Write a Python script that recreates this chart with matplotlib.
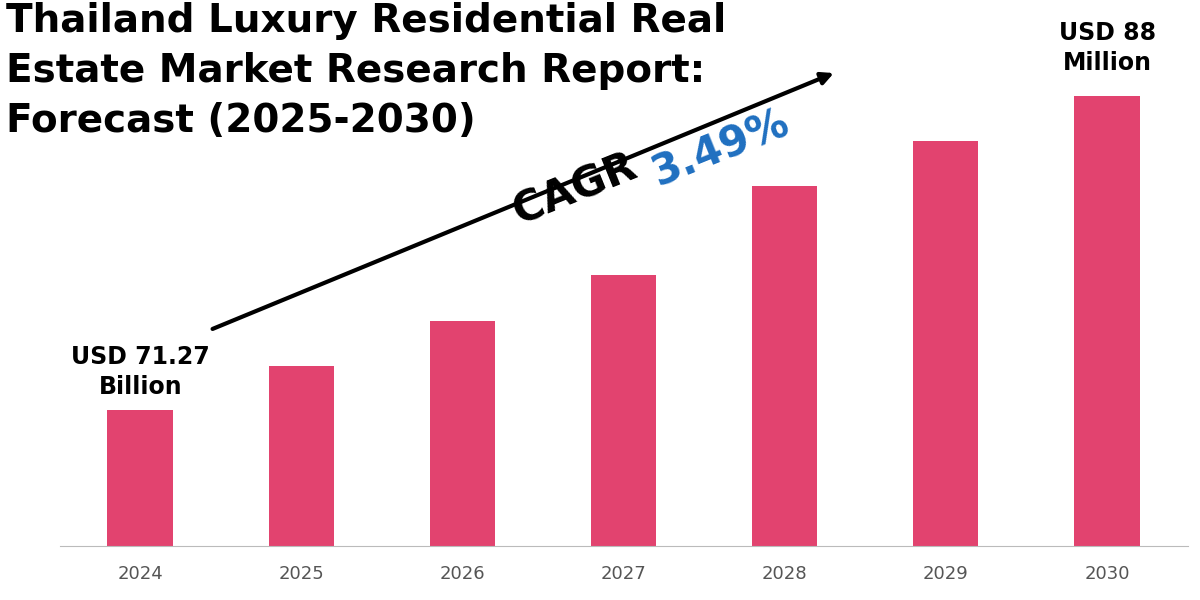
import matplotlib
matplotlib.use("Agg")
import matplotlib.pyplot as plt

years = ["2024", "2025", "2026", "2027", "2028", "2029", "2030"]
values = [136, 180, 225, 271, 360, 405, 450]  # relative bar heights (index)

fig = plt.figure(figsize=(12, 6), dpi=100)
ax = fig.add_axes([0.0496, 0.09, 0.94, 0.91])
ax.bar(range(len(years)), values, width=0.405, color="#E2436F")
ax.set_xlim(-0.5, 6.5)
ax.set_ylim(0, 546)
for s in ["top", "right", "left"]:
    ax.spines[s].set_visible(False)
ax.spines["bottom"].set_color("#BBBBBB")
ax.set_yticks([])
ax.set_xticks(range(len(years)))
ax.set_xticklabels(years, fontsize=13, color="#555555")
ax.tick_params(axis="x", length=0, pad=14)

fig.text(0.005, 0.997, "Thailand Luxury Residential Real\nEstate Market Research Report:\nForecast (2025-2030)",
         fontsize=28, fontweight="bold", va="top", ha="left", linespacing=1.4)
fig.text(0.117, 0.38, "USD 71.27\nBillion", fontsize=17, fontweight="bold", ha="center", va="center", linespacing=1.3)
fig.text(0.923, 0.92, "USD 88\nMillion", fontsize=17, fontweight="bold", ha="center", va="center", linespacing=1.3)

fig.add_artist(matplotlib.patches.FancyArrowPatch((0.175, 0.45), (0.697, 0.88), transform=fig.transFigure,
               arrowstyle="-|>", mutation_scale=18, lw=3, color="black"))
fig.text(0.436, 0.61, "CAGR ", fontsize=30, fontweight="bold", rotation=22, ha="left", va="bottom",
         rotation_mode="anchor")
fig.text(0.551, 0.675, "3.49%", fontsize=30, fontweight="bold", rotation=22, color="#1F6FC0",
         ha="left", va="bottom", rotation_mode="anchor")
fig.savefig("out.png")
